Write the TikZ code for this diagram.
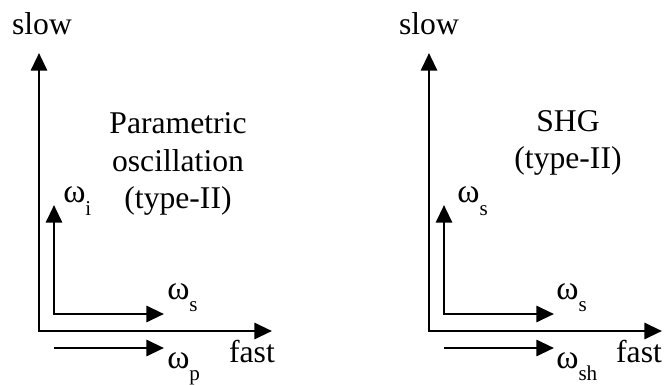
\documentclass[tikz,border=0pt]{standalone}
\usepackage{fontspec}
\setmainfont{Liberation Serif}
\usetikzlibrary{arrows.meta,positioning}

\newcommand{\om}[1]{{\fontsize{24}{26}\selectfont ω}\raisebox{-0.4em}{\fontsize{15}{15}\selectfont #1}}

\begin{document}
\begin{tikzpicture}[x=0.025cm,y=-0.025cm,
    ax/.style={line width=2pt,{Triangle[length=0.44cm,width=0.4cm]}-{Triangle[length=0.44cm,width=0.4cm]}},
    fld/.style={line width=2pt,-{Triangle[length=0.44cm,width=0.4cm]}},
    lbl/.style={font=\fontsize{22.5}{26.5}\selectfont,inner sep=0pt}]
    \useasboundingbox (0,0) rectangle (668,385);

    % Axes and field arrows
    \foreach \p/\dx in {a/0,b/390} {
        \coordinate (o\p) at (39+\dx,331);
        \coordinate (top\p) at (39+\dx,53);
        \coordinate (right\p) at (272+\dx,331);
        \coordinate (c\p) at (54+\dx,314);
        \coordinate (ctop\p) at (54+\dx,205);
        \coordinate (cright\p) at (164+\dx,314);
        \coordinate (pl\p) at (54+\dx,348);
        \coordinate (pr\p) at (164+\dx,348);
        \draw[ax] (top\p) -- (o\p) -- (right\p);
        \draw[ax] (ctop\p) -- (c\p) -- (cright\p);
        \draw[fld] (pl\p) -- (pr\p);
    }

    % Parametric oscillation
    \node[lbl,anchor=base] (slowa) at (42,35) {slow};
    \node[lbl,anchor=base] (fasta) at (252,362) {fast};
    \node[lbl,anchor=base west] (wia) at (63,203) {\om{i}};
    \node[lbl,anchor=base west] (wsa) at (167,299) {\om{s}};
    \node[lbl,anchor=base west] (wpa) at (167,368) {\om{p}};
    \node[lbl,align=center] (opo) at (178,164) {Parametric\\oscillation\\(type-II)};

    % SHG
    \node[lbl,anchor=base] (slowb) at (429,35) {slow};
    \node[lbl,anchor=base] (fastb) at (639,362) {fast};
    \node[lbl,anchor=base west] (wsb) at (457,203) {\om{s}};
    \node[lbl,anchor=base west] (wsc) at (556,299) {\om{s}};
    \node[lbl,anchor=base west] (wsh) at (556,368) {\om{sh}};
    \node[lbl,align=center] (shg) at (568,143) {SHG\\(type-II)};
\end{tikzpicture}
\end{document}
